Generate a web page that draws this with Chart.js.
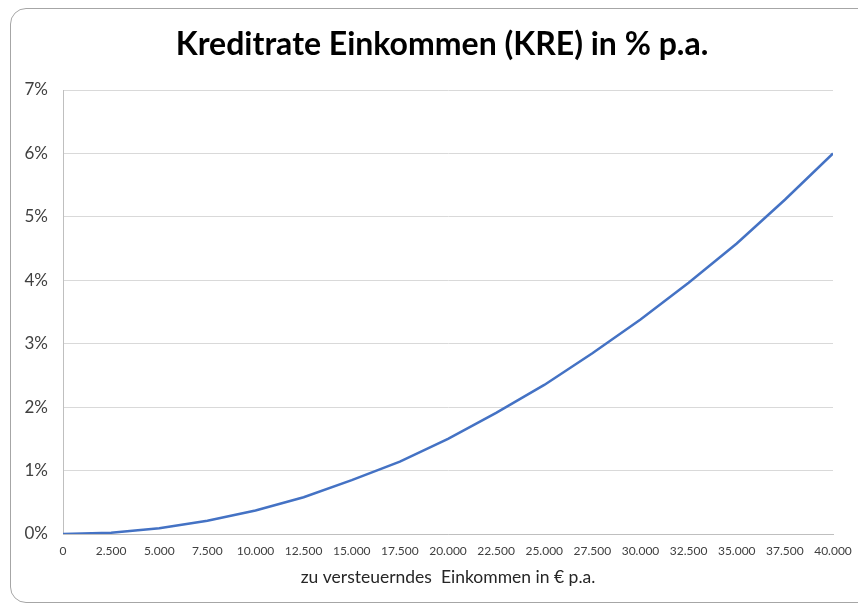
<!DOCTYPE html>
<html><head><meta charset="utf-8">
<script src="https://cdn.jsdelivr.net/npm/chart.js@4.4.0/dist/chart.umd.min.js"></script>
<style>
html,body{margin:0;padding:0;background:#fff;overflow:hidden;}
#wrap{position:absolute;left:0;top:0;width:858px;height:606px;}
#frame{position:absolute;left:10px;top:8px;width:870px;height:595px;border:1px solid #a6a6a6;border-radius:16px;pointer-events:none;box-sizing:border-box;}
</style></head>
<body>
<div id="wrap"><canvas id="c" width="858" height="606"></canvas><div id="frame"></div></div>
<script>
const incomes = [0,2500,5000,7500,10000,12500,15000,17500,20000,22500,25000,27500,30000,32500,35000,37500,40000];
const rates = [0,0.02,0.09,0.21,0.37,0.58,0.85,1.14,1.5,1.91,2.35,2.85,3.38,3.96,4.58,5.27,6.0];
const xTickLabels = ["0","2.500","5.000","7.500","10.000","12.500","15.000","17.500","20.000","22.500","25.000","27.500","30.000","32.500","35.000","37.500","40.000"];
const yTickLabels = ["0%","1%","2%","3%","4%","5%","6%","7%"];
const titleText = "Kreditrate Einkommen (KRE) in % p.a.";
const xTitle = "zu versteuerndes  Einkommen in € p.a.";

const titlePlugin = {
  id:'customTitle',
  afterDraw(chart){
    const ctx = chart.ctx;
    ctx.save();
    ctx.font = 'bold 32px Lato';
    ctx.fillStyle = '#000';
    ctx.textAlign = 'center';
    ctx.textBaseline = 'middle';
    ctx.fillText(titleText, 442, 45);
    ctx.restore();
  }
};

new Chart(document.getElementById('c'), {
  type: 'line',
  data: { datasets: [{
    data: incomes.map((x,i)=>({x:x,y:rates[i]})),
    borderColor:'#4472c4', borderWidth:2.5, pointRadius:0, tension:0, fill:false
  }]},
  plugins:[titlePlugin],
  options: {
    responsive:false, animation:false, devicePixelRatio:1,
    layout:{padding:{left:0,right:25,top:90,bottom:18}},
    plugins:{ legend:{display:false}, tooltip:{enabled:false}, title:{display:false} },
    scales:{
      x:{type:'linear',min:0,max:40000,
        afterBuildTicks:(s)=>{s.ticks=incomes.map(v=>({value:v}));},
        afterFit:(s)=>{s.height=54;s.paddingRight=0;s.paddingLeft=0;},
        ticks:{autoSkip:false,maxRotation:0,color:'#404040',font:{family:'Lato',size:12},padding:10,
          callback:(v)=>{const i=incomes.indexOf(v);return i>=0?xTickLabels[i]:'';}},
        grid:{display:false,drawTicks:false},
        border:{display:true,color:'#bfbfbf',width:1},
        title:{display:true,text:xTitle,color:'#262626',font:{family:'Lato',size:17.5},padding:{top:0,bottom:0}}
      },
      y:{min:0,max:7,
        afterBuildTicks:(s)=>{s.ticks=yTickLabels.map((t,i)=>({value:i}));},
        afterFit:(s)=>{s.width=63;s.paddingTop=0;s.paddingBottom=0;},
        ticks:{color:'#404040',font:{family:'Lato',size:17},padding:15,
          callback:(v)=>yTickLabels[v]},
        grid:{color:'#d9d9d9',lineWidth:1,drawTicks:false},
        border:{display:true,color:'#bfbfbf',width:1}
      }
    }
  }
});
</script>
</body></html>
